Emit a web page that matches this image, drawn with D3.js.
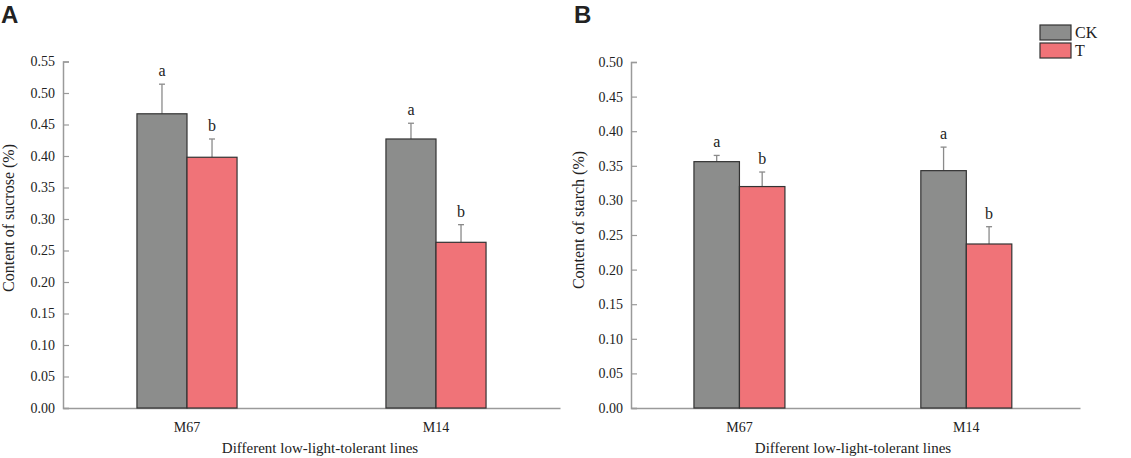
<!DOCTYPE html>
<html>
<head>
<meta charset="utf-8">
<script src="https://cdn.jsdelivr.net/npm/d3@7"></script>
<style>
  body { margin: 0; background: #fff; }
  svg { display: block; }
  text { font-family: "Liberation Serif", "Times New Roman", serif; fill: #222; }
</style>
</head>
<body>
<svg id="chart"></svg>
<script>
const width = 1131, height = 458;

// Data
const lines = ["M67", "M14"];
const treatments = ["CK", "T"];
const sucroseMean = { CK: [0.467, 0.427], T: [0.398, 0.263] };
const sucroseErr  = { CK: [0.047, 0.025], T: [0.029, 0.028] };
const sucroseSig  = { CK: ["a", "a"], T: ["b", "b"] };
const starchMean  = { CK: [0.356, 0.343], T: [0.320, 0.237] };
const starchErr   = { CK: [0.009, 0.034], T: [0.021, 0.025] };
const starchSig   = { CK: ["a", "a"], T: ["b", "b"] };
const sucroseTicks = d3.range(0, 0.5501, 0.05);
const starchTicks  = d3.range(0, 0.5001, 0.05);

const colors = { CK: "#8c8d8c", T: "#f07378" };

const svg = d3.select("#chart").attr("width", width).attr("height", height);

// one panel of grouped bars with error bars
function drawPanel(opt) {
    const g = svg.append("g");

    const x = d3.scaleBand().domain(lines)
        .range([opt.left, opt.right])
        .paddingInner(opt.padIn).paddingOuter(opt.padOut).align(opt.align);
    const x1 = d3.scaleBand().domain(treatments).range([0, x.bandwidth()]);
    const y = d3.scaleLinear().domain([0, opt.max]).range([opt.bottom, opt.top]);

    // y axis, ticks point inward
    const yAxis = g.append("g")
        .attr("transform", `translate(${opt.left},0)`)
        .call(d3.axisRight(y).tickValues(opt.ticks).tickFormat(d3.format(".2f")).tickSize(6));
    yAxis.select(".domain").attr("stroke", "#9a9a9a").attr("stroke-width", 1.5);
    yAxis.selectAll(".tick line").attr("stroke", "#9a9a9a").attr("stroke-width", 1.2);
    yAxis.selectAll(".tick text").attr("text-anchor", "end").attr("x", -8)
        .attr("font-size", 14).attr("fill", "#222");

    // x axis
    const xAxis = g.append("g")
        .attr("transform", `translate(0,${opt.bottom})`)
        .call(d3.axisBottom(x).tickSize(0).tickPadding(14));
    xAxis.select(".domain").attr("stroke", "#9a9a9a").attr("stroke-width", 1.5);
    xAxis.selectAll(".tick text").attr("font-size", 14).attr("fill", "#222");

    // bars
    treatments.forEach(t => {
        lines.forEach((ln, i) => {
            const bx = x(ln) + x1(t);
            const v = opt.mean[t][i];
            const e = opt.err[t][i];
            const cx = bx + x1.bandwidth() / 2;

            g.append("line")
                .attr("x1", cx).attr("x2", cx)
                .attr("y1", y(v)).attr("y2", y(v + e))
                .attr("stroke", "#8a8a8a").attr("stroke-width", 1.3);
            g.append("line")
                .attr("x1", cx - 3).attr("x2", cx + 3)
                .attr("y1", y(v + e)).attr("y2", y(v + e))
                .attr("stroke", "#8a8a8a").attr("stroke-width", 1.3);

            g.append("rect")
                .attr("x", bx).attr("y", y(v))
                .attr("width", x1.bandwidth()).attr("height", y(0) - y(v))
                .attr("fill", colors[t]).attr("stroke", "#333").attr("stroke-width", 1.2);

            g.append("text")
                .attr("x", cx).attr("y", y(v + e) - 8)
                .attr("text-anchor", "middle").attr("font-size", 16).attr("fill", "#333")
                .text(opt.sig[t][i]);
        });
    });

    // axis titles
    g.append("text")
        .attr("transform", `translate(${opt.ytx},${opt.yty}) rotate(-90)`)
        .attr("text-anchor", "middle").attr("font-size", 16)
        .text(opt.ylabel);
    g.append("text")
        .attr("x", opt.xtx).attr("y", 453)
        .attr("text-anchor", "middle").attr("font-size", 15)
        .text("Different low-light-tolerant lines");

    // panel letter
    g.append("text")
        .attr("x", opt.letterX).attr("y", 23)
        .style("font-family", "'Liberation Sans', Arial, sans-serif")
        .attr("font-weight", "bold").attr("font-size", 24).attr("fill", "#000")
        .text(opt.letter);
}

drawPanel({
    left: 63, right: 560, top: 61.5, bottom: 408, max: 0.55,
    padIn: 0.598, padOut: 0.297, align: 0.5,
    ticks: sucroseTicks, mean: sucroseMean, err: sucroseErr, sig: sucroseSig,
    ylabel: "Content of sucrose (%)", ytx: 14, yty: 218, xtx: 320,
    letter: "A", letterX: 1
});

drawPanel({
    left: 631, right: 1080, top: 62, bottom: 408, max: 0.50,
    padIn: 0.599, padOut: 0.289, align: 0.48,
    ticks: starchTicks, mean: starchMean, err: starchErr, sig: starchSig,
    ylabel: "Content of starch (%)", ytx: 584, yty: 220, xtx: 853,
    letter: "B", letterX: 574
});

// legend
const legend = svg.append("g").attr("transform", "translate(1040,25)");
treatments.forEach((t, i) => {
    legend.append("rect")
        .attr("x", 0).attr("y", i * 18)
        .attr("width", 31).attr("height", 15)
        .attr("fill", colors[t]).attr("stroke", "#333").attr("stroke-width", 1.2);
    legend.append("text")
        .attr("x", 35).attr("y", i * 18 + 13)
        .attr("font-size", 16).attr("fill", "#222")
        .text(t);
});
</script>
</body>
</html>
